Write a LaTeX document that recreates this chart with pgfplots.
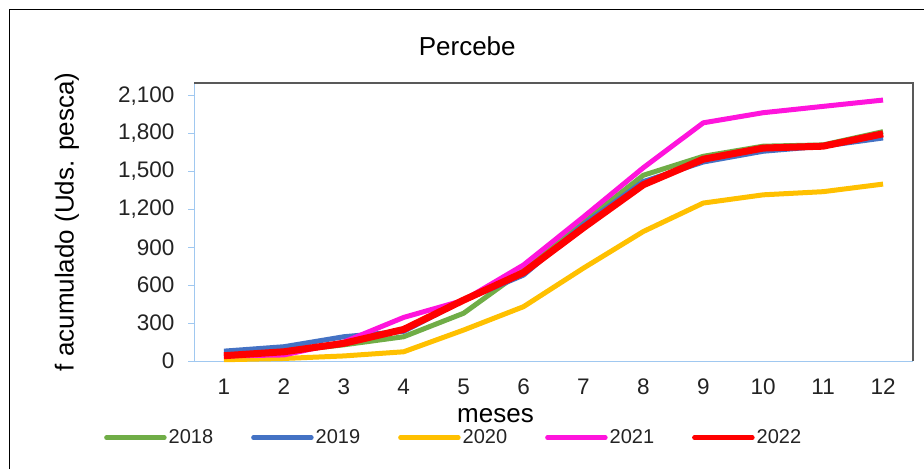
\documentclass[border=0pt]{standalone}
\usepackage{pgfplots}
\pgfplotsset{compat=1.18}
\usepackage{fontspec}
\setmainfont{Liberation Sans}
\definecolor{c18}{HTML}{70AD47}
\definecolor{c19}{HTML}{4472C4}
\definecolor{c20}{HTML}{FFC000}
\definecolor{c21}{RGB}{255,20,220}
\definecolor{c22}{HTML}{FF0000}
\definecolor{axblue}{RGB}{160,200,240}
\definecolor{frame}{HTML}{595959}
\definecolor{txt}{RGB}{35,35,35}
\begin{document}
\begin{tikzpicture}[x=1pt,y=1pt]
\useasboundingbox (0,0) rectangle (924,469);
\draw[black,line width=1pt] (9,0) -- (9,459) -- (924,459);
\begin{axis}[
  at={(194pt,108pt)}, anchor=south west,
  scale only axis, width=719pt, height=278pt,
  xmin=0.5, xmax=12.5, ymin=0, ymax=2200,
  axis x line*=bottom, axis y line*=left,
  axis line style={axblue, line width=1pt},
  xtick={1,...,12},
  minor xtick={0.5,1.5,...,12.5},
  xtick style={draw=none},
  minor x tick style={axblue, line width=1pt},
  minor tick length=7pt,
  ytick={0,300,...,2100},
  ytick style={axblue, line width=1pt},
  major tick length=6pt,
  tick align=outside,
  /pgf/number format/assume math mode=true,
  /pgf/number format/1000 sep={,},
  tick label style={font=\fontsize{22.5}{26}\selectfont, text=txt},
  xticklabel style={yshift=-8pt},
  yticklabel style={xshift=-10pt},
  title={Percebe},
  title style={font=\fontsize{26}{30}\selectfont, text=black, at={(axis description cs:0.380,1.078)}, anchor=base},
  xlabel={meses},
  xlabel style={font=\fontsize{26}{30}\selectfont, text=black, at={(axis description cs:0.4193,-0.223)}, anchor=base},
  ylabel={f acumulado (Uds. pesca)},
  ylabel style={font=\fontsize{26}{30}\selectfont, text=black, at={(axis description cs:-0.1675,0.5)}, anchor=base, rotate=0},
  legend columns=5,
  legend style={draw=none, fill=none, inner sep=0pt, at={(axis description cs:-0.1252,-0.2759)}, anchor=west,
    font=\fontsize{20}{24}\selectfont, text=txt,
    /tikz/every even column/.append style={column sep=36pt},
    /tikz/every odd column/.append style={column sep=0pt}},
  legend image code/.code={\draw[#1, line width=4.5pt, line cap=round] (0pt,0pt) -- (58pt,0pt);},
  clip=false,
]
\addplot[c18, line width=5pt, line join=round] coordinates {(1,45) (2,75) (3,128) (4,192) (5,378) (6,720) (7,1100) (8,1470) (9,1620) (10,1700) (11,1710) (12,1815)};
\addlegendentry{2018}
\addplot[c19, line width=5pt, line join=round] coordinates {(1,78) (2,113) (3,192) (4,235) (5,480) (6,680) (7,1080) (8,1420) (9,1575) (10,1660) (11,1700) (12,1765)};
\addlegendentry{2019}
\addplot[c20, line width=5pt, line join=round] coordinates {(1,10) (2,20) (3,40) (4,73) (5,245) (6,430) (7,735) (8,1025) (9,1250) (10,1315) (11,1340) (12,1400)};
\addlegendentry{2020}
\addplot[c21, line width=5pt, line join=round] coordinates {(1,40) (2,48) (3,150) (4,345) (5,480) (6,760) (7,1140) (8,1530) (9,1885) (10,1965) (11,2015) (12,2065)};
\addlegendentry{2021}
\addplot[c22, line width=7pt, line join=round] coordinates {(1,42) (2,73) (3,140) (4,250) (5,482) (6,700) (7,1055) (8,1395) (9,1597) (10,1685) (11,1700) (12,1798)};
\addlegendentry{2022}
\draw[frame, line width=1.3pt] (rel axis cs:0,1) -- (rel axis cs:1,1) -- (rel axis cs:1,0);
\end{axis}
\end{tikzpicture}
\end{document}
